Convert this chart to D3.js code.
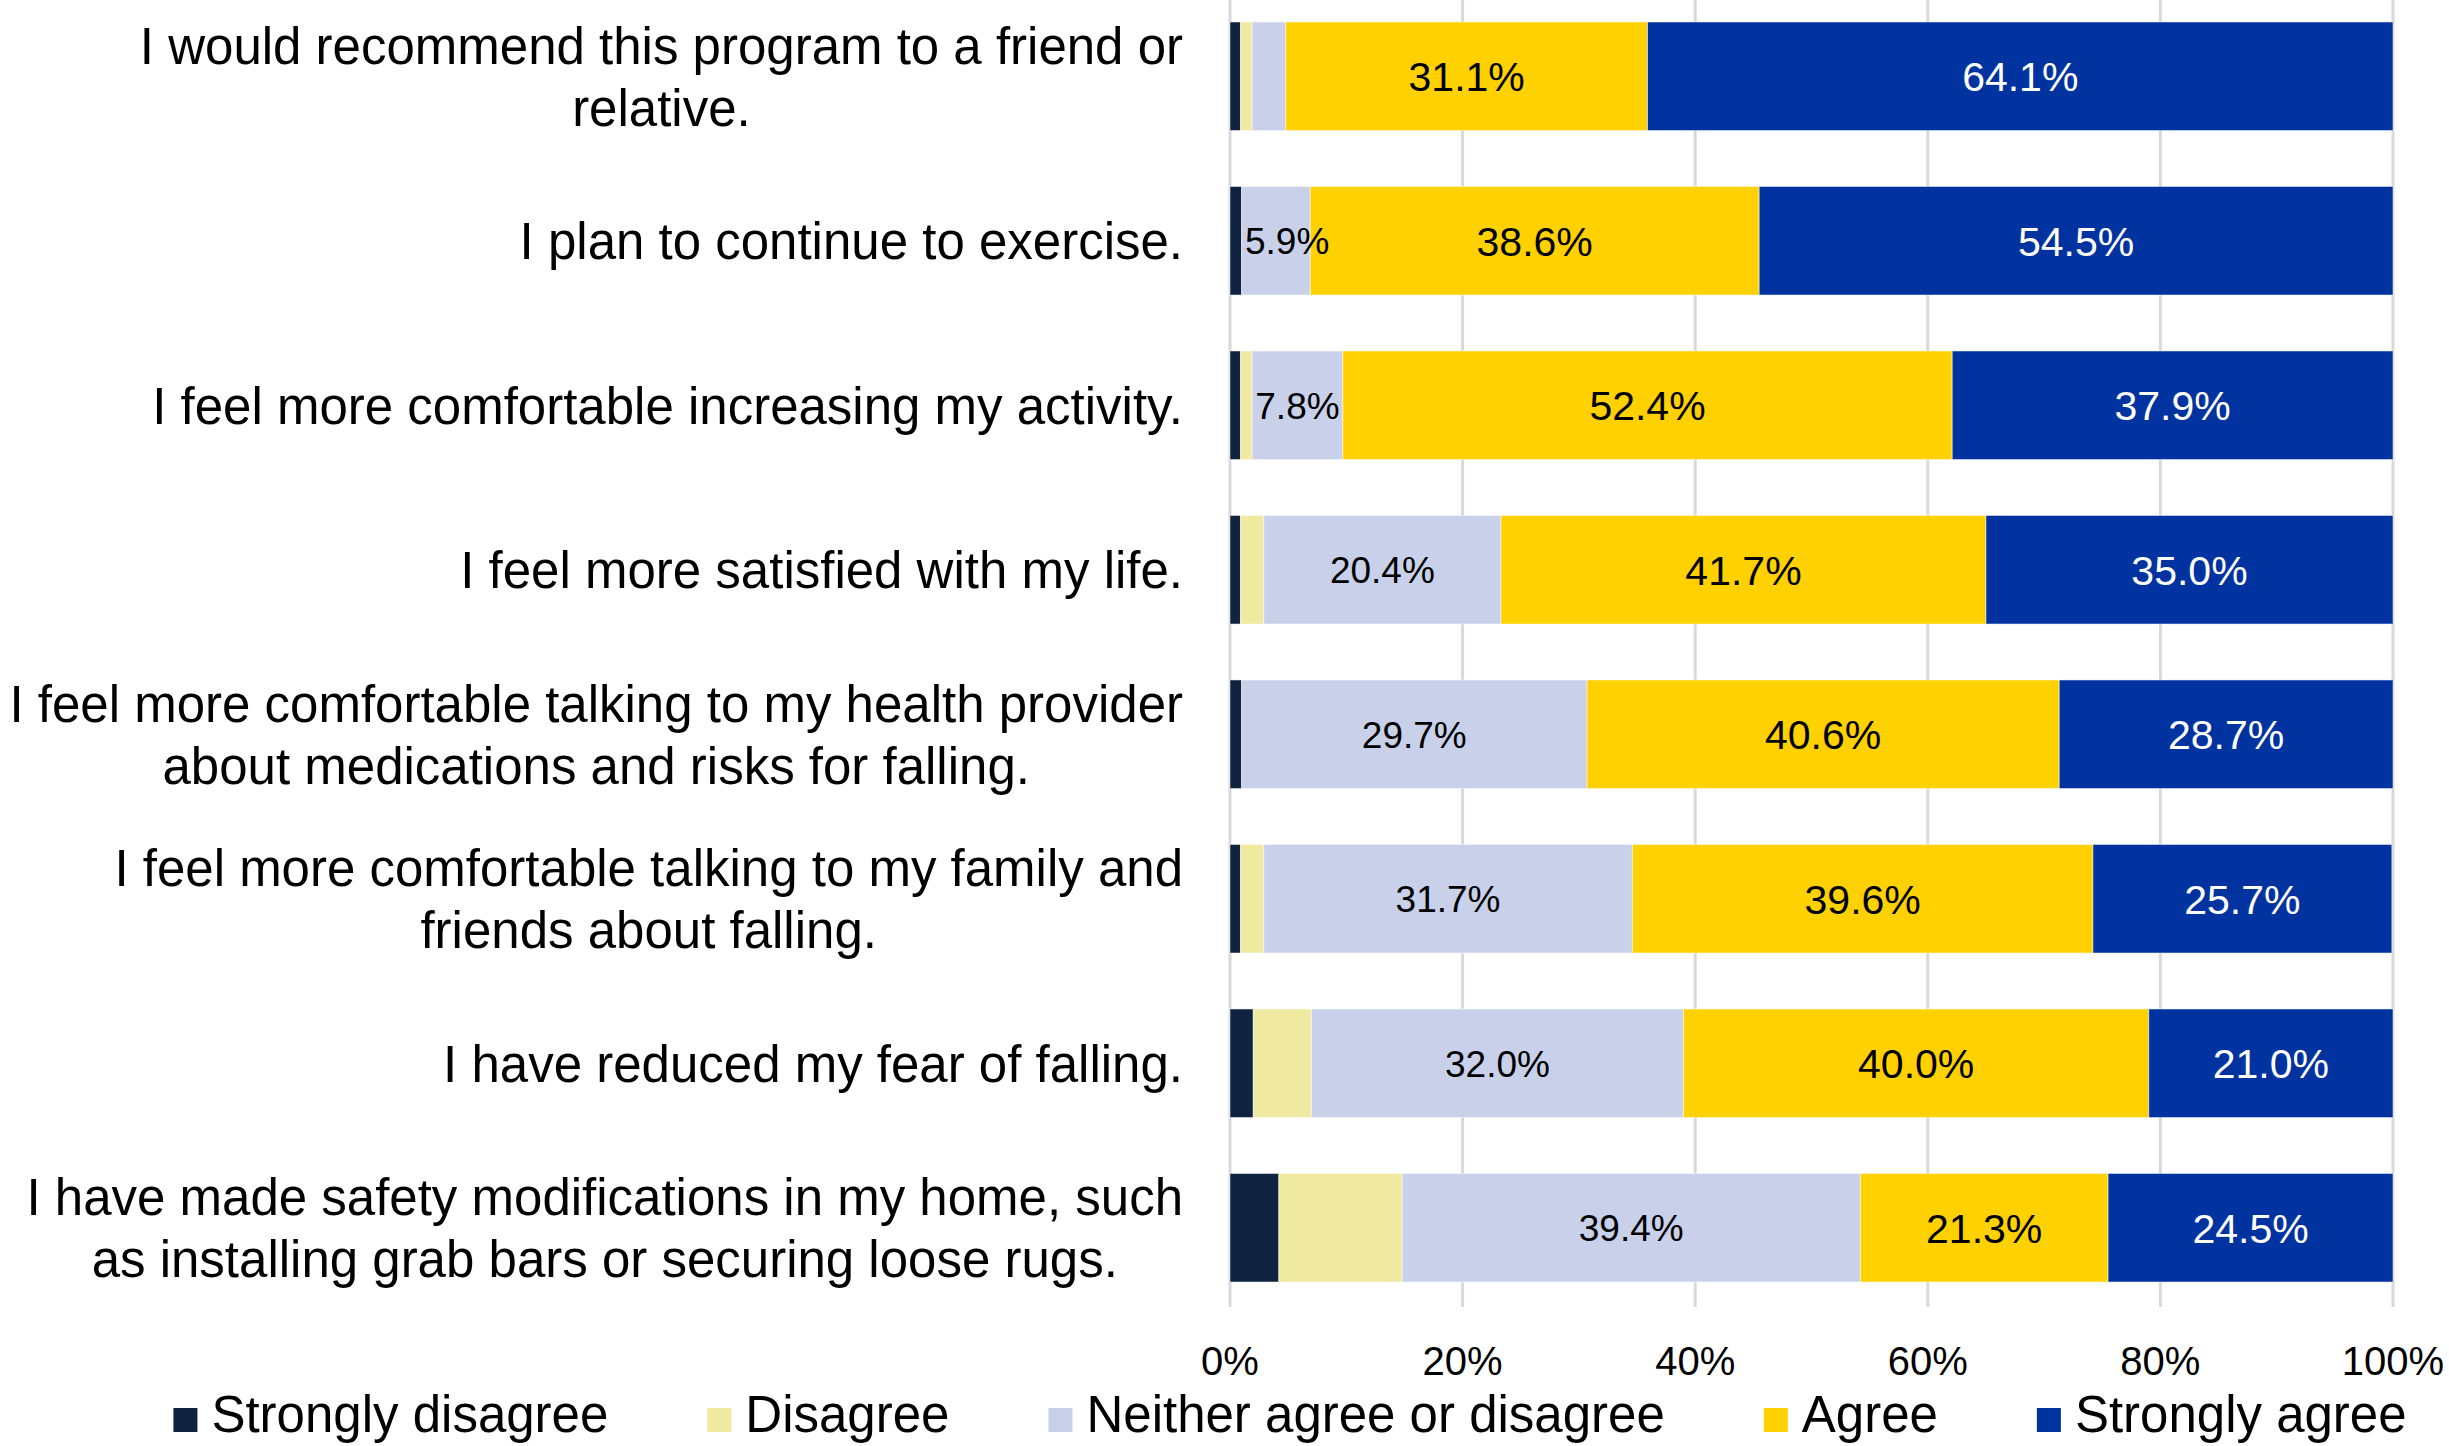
<!DOCTYPE html>
<html>
<head>
<meta charset="utf-8">
<script src="https://cdn.jsdelivr.net/npm/d3@7"></script>
<style>
  body { margin: 0; background: #fff; }
  svg { display: block; font-family: "Liberation Sans", Arial, sans-serif; }
</style>
</head>
<body>
<svg width="2449" height="1446"></svg>
<script>
const width = 2449, height = 1446;
const svg = d3.select("svg");

// Survey statements (\n marks a line break in the label)
const categories = [
    "I would recommend this program to a friend or\nrelative.",
    "I plan to continue to exercise.",
    "I feel more comfortable increasing my activity.",
    "I feel more satisfied with my life.",
    "I feel more comfortable talking to my health provider\nabout medications and risks for falling.",
    "I feel more comfortable talking to my family and\nfriends about falling.",
    "I have reduced my fear of falling.",
    "I have made safety modifications in my home, such\nas installing grab bars or securing loose rugs."
];

// Percent of responses per answer
const stronglyDisagree = [0.9, 1.0, 0.9, 0.9, 1.0, 0.9, 2.0, 4.2];
const disagree         = [1.0, 0.0, 1.0, 2.0, 0.0, 2.0, 5.0, 10.6];
const neither          = [2.9, 5.9, 7.8, 20.4, 29.7, 31.7, 32.0, 39.4];
const agree            = [31.1, 38.6, 52.4, 41.7, 40.6, 39.6, 40.0, 21.3];
const stronglyAgree    = [64.1, 54.5, 37.9, 35.0, 28.7, 25.7, 21.0, 24.5];

const seriesNames = ["Strongly disagree", "Disagree", "Neither agree or disagree", "Agree", "Strongly agree"];
const seriesValues = [stronglyDisagree, disagree, neither, agree, stronglyAgree];
const colors = ["#0f2341", "#f0e9a0", "#c9d1ea", "#ffd100", "#0033a0"];
const labelColors = ["#000", "#000", "#000", "#000", "#fff"];
const labelSizes = [0, 0, 37, 41, 41]; // 0 = no data labels for that series
const xTicks = [0, 20, 40, 60, 80, 100];

// Layout
const plot = { left: 1230, right: 2393, top: -6, bottom: 1310, gridBottom: 1307 };

const x = d3.scaleLinear().domain([0, 100]).range([plot.left, plot.right]);
const y = d3.scaleBand()
    .domain(d3.range(categories.length))
    .range([plot.top, plot.bottom])
    .paddingInner(0.34)
    .paddingOuter(0.17);

// Build stacked table from the arrays
const table = categories.map((c, i) => {
    const row = { index: i };
    seriesNames.forEach((s, k) => row[s] = seriesValues[k][i]);
    return row;
});
const stacked = d3.stack().keys(seriesNames)(table);

// Gridlines (including the 0% axis line)
svg.append("g")
    .selectAll("line")
    .data(xTicks)
    .join("line")
    .attr("x1", d => x(d)).attr("x2", d => x(d))
    .attr("y1", 0).attr("y2", plot.gridBottom)
    .attr("stroke", "#d9d9d9")
    .attr("stroke-width", 3);

// Bars
const layers = svg.append("g")
    .selectAll("g")
    .data(stacked)
    .join("g")
    .attr("fill", (d, k) => colors[k]);

layers.selectAll("rect")
    .data(d => d)
    .join("rect")
    .attr("x", d => x(d[0]))
    .attr("y", d => y(d.data.index))
    .attr("width", d => Math.max(0, x(d[1]) - x(d[0])))
    .attr("height", y.bandwidth())
    .attr("stroke", "#ffffff")
    .attr("stroke-opacity", 0.5)
    .attr("stroke-width", 1);

// Value labels (centered, but kept clear of the 0% line)
stacked.forEach((layer, k) => {
    if (!labelSizes[k]) return;
    svg.append("g")
        .selectAll("text")
        .data(layer.filter(d => d[1] - d[0] >= 5))
        .join("text")
        .attr("y", d => y(d.data.index) + y.bandwidth() / 2)
        .attr("dy", "0.36em")
        .attr("text-anchor", "middle")
        .attr("fill", labelColors[k])
        .style("font-size", labelSizes[k] + "px")
        .text(d => (d[1] - d[0]).toFixed(1) + "%")
        .attr("x", function (d) {
            const w = this.getComputedTextLength();
            return Math.max((x(d[0]) + x(d[1])) / 2, x(0) + 15 + w / 2);
        });
});

// Category labels: block right-aligned, lines centered within the block
const labelRight = 1183, lineHeight = 62;
categories.forEach((c, i) => {
    const lines = c.split("\n");
    const g = svg.append("g");
    const texts = lines.map((line, j) => g.append("text")
        .attr("y", y(i) + y.bandwidth() / 2 + (j - (lines.length - 1) / 2) * lineHeight)
        .attr("dy", "0.36em")
        .attr("text-anchor", "middle")
        .style("font-size", "51px")
        .attr("fill", "#000")
        .text(line));
    const maxW = d3.max(texts, t => t.node().getComputedTextLength());
    texts.forEach(t => t.attr("x", Math.max(labelRight - maxW / 2, maxW / 2 + 2)));
});

// X tick labels
svg.append("g")
    .selectAll("text")
    .data(xTicks)
    .join("text")
    .attr("x", d => x(d))
    .attr("y", 1375)
    .attr("text-anchor", "middle")
    .style("font-size", "40px")
    .attr("fill", "#000")
    .text(d => d + "%");

// Legend
const legend = svg.append("g");
const sw = 24, swGap = 14, itemGap = 99, legendBaseline = 1432;
const items = seriesNames.map((name, k) => {
    const g = legend.append("g");
    g.append("rect")
        .attr("y", legendBaseline - sw)
        .attr("width", sw).attr("height", sw)
        .attr("fill", colors[k]);
    const t = g.append("text")
        .attr("x", sw + swGap)
        .attr("y", legendBaseline)
        .style("font-size", "51px")
        .attr("fill", "#000")
        .text(name);
    return { g, w: sw + swGap + t.node().getComputedTextLength() };
});
const totalW = d3.sum(items, d => d.w) + itemGap * (items.length - 1);
let cursor = 1290 - totalW / 2;
items.forEach(it => {
    it.g.attr("transform", `translate(${cursor},0)`);
    cursor += it.w + itemGap;
});
</script>
</body>
</html>
